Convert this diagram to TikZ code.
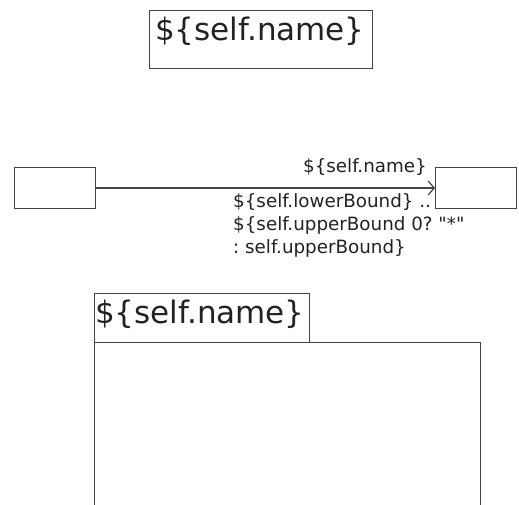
\documentclass[tikz,border=0pt]{standalone}
\usepackage{fontspec}
\setmainfont{DejaVu Sans}
\newfontfamily\umlfont{DejaVu Sans}
\usepackage{tikz}
\usetikzlibrary{arrows.meta}
\usepackage{xcolor}
\definecolor{UmlLine}{HTML}{444444}
\definecolor{UmlText}{HTML}{222222}
\frenchspacing

\begin{document}
\begin{tikzpicture}[x=1pt,y=-1pt,
    umlbox/.style={draw=UmlLine,line width=1pt,inner sep=0pt,anchor=north west},
    bigname/.style={text=UmlText,inner sep=0pt,font=\umlfont\fontsize{31}{36}\selectfont},
    smallname/.style={text=UmlText,inner sep=0pt,font=\umlfont\fontsize{18.3}{23}\selectfont}]
    \useasboundingbox (0,0) rectangle (519,504);

    % class
    \node[umlbox,minimum width=223pt,minimum height=58pt] (cls) at (149,10) {};
    \node[bigname,anchor=base west] (clsname) at (155,40) {\$\{self.name\}};

    % association
    \node[umlbox,minimum width=81pt,minimum height=41pt] (src) at (14,167) {};
    \node[umlbox,minimum width=81pt,minimum height=41pt] (dst) at (435,167) {};
    \draw[UmlLine,line width=1.2pt,-{Straight Barb[length=6pt,width=14pt]}] (src) -- (dst);
    \node[smallname,anchor=base east] (role) at (427,172) {\$\{self.name\}};
    \node[smallname,anchor=north west,align=left] (mult) at (233,193)
        {\$\{self.lowerBound\} ..\\\$\{self.upperBound 0? "*"\\: self.upperBound\}};

    % package
    \node[umlbox,minimum width=215pt,minimum height=49pt] (tab) at (94,293) {};
    \node[bigname,anchor=base west] (pkgname) at (95,323) {\$\{self.name\}};
    \node[umlbox,minimum width=386pt,minimum height=168pt] (pkg) at (94,342) {};
\end{tikzpicture}
\end{document}
